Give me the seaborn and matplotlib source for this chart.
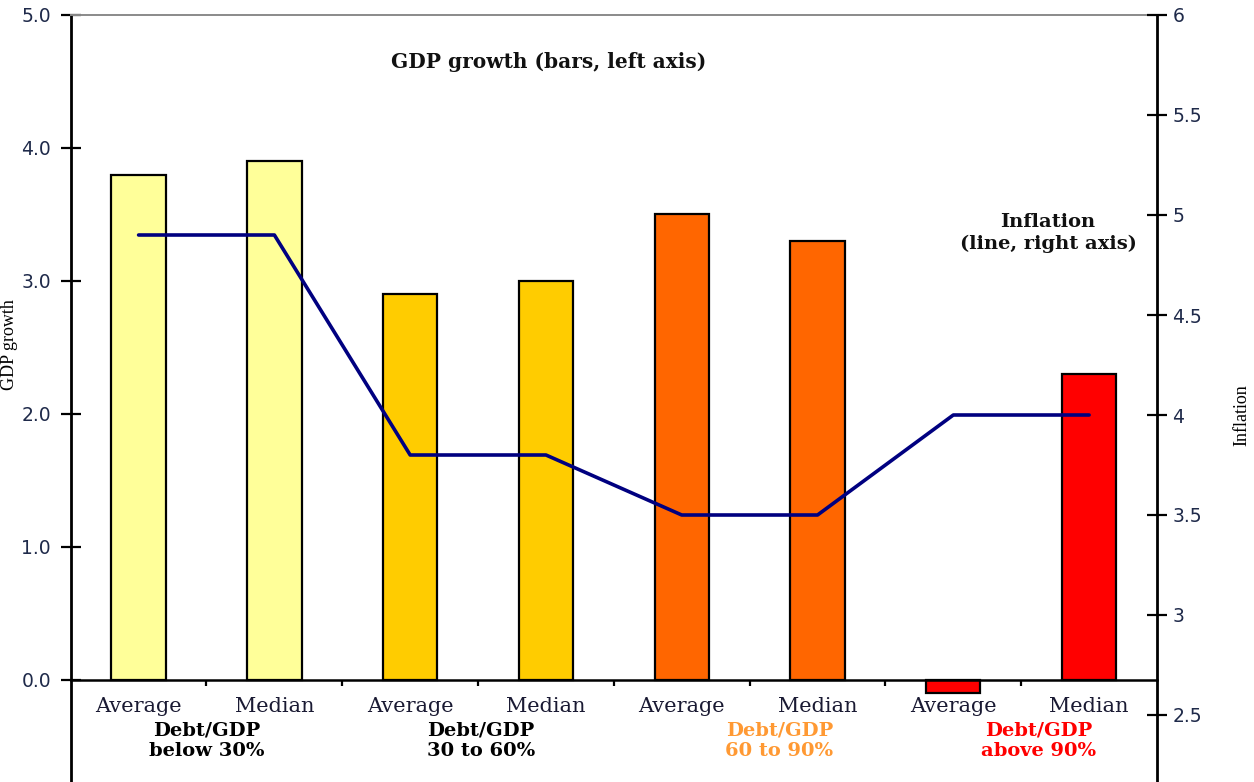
import numpy as np
import pandas as pd
import matplotlib
matplotlib.use("Agg")
import matplotlib.pyplot as plt
from matplotlib.ticker import FuncFormatter, FixedLocator
import seaborn as sns

# Debt/GDP buckets and the two statistics shown for each
groups = ["below 30%", "30 to 60%", "60 to 90%", "above 90%"]
measures = ["Average", "Median"]
gdp_growth = [3.8, 3.9, 2.9, 3.0, 3.5, 3.3, -0.1, 2.3]   # bars, left axis
inflation = [4.9, 4.9, 3.8, 3.8, 3.5, 3.5, 4.0, 4.0]      # line, right axis
left_ticks = [0.0, 1.0, 2.0, 3.0, 4.0, 5.0]
right_ticks = [2.5, 3.0, 3.5, 4.0, 4.5, 5.0, 5.5, 6.0]

bar_colors = ["#FFFF99", "#FFCC00", "#FF6600", "#FF0000"]
group_text_colors = ["#000000", "#000000", "#FF9933", "#FF0000"]

df = pd.DataFrame({
    "slot": [f"{g} {m}" for g in groups for m in measures],
    "group": [g for g in groups for _ in measures],
    "measure": [m for _ in groups for m in measures],
    "gdp": gdp_growth,
})

sns.set_theme(style="white")
plt.rcParams["font.family"] = ["DejaVu Serif"]

W, H = 1254, 782
fig = plt.figure(figsize=(W / 100, H / 100), dpi=100)
ax_left, ax_right, ax_top = 70.7, 1157, 15
ax = fig.add_axes([ax_left / W, 0, (ax_right - ax_left) / W, 1 - ax_top / H])

sns.barplot(data=df, x="slot", y="gdp", hue="group", palette=bar_colors,
            saturation=1, dodge=False, width=0.4, edgecolor="black",
            linewidth=1.6, legend=False, ax=ax)

ax.set_xlim(-0.5, len(df) - 0.5)
ax.set_ylim(-0.767, 5.0)

ax2 = ax.twinx()
sns.lineplot(x=np.arange(len(df)), y=inflation, color="#000080",
             linewidth=2.6, ax=ax2)
ax2.set_ylim(2.165, 6.0)
ax.set_xlim(-0.5, len(df) - 0.5)

# spines
ax.spines["right"].set_visible(False)
ax.spines["top"].set_color("#8a8a8a")
ax.spines["top"].set_linewidth(1.4)
ax.spines["left"].set_color("black")
ax.spines["left"].set_linewidth(2.0)
ax.spines["bottom"].set_position(("data", 0))
ax.spines["bottom"].set_color("black")
ax.spines["bottom"].set_linewidth(1.8)
for s in ["left", "top", "bottom"]:
    ax2.spines[s].set_visible(False)
ax2.spines["right"].set_color("black")
ax2.spines["right"].set_linewidth(2.0)

# x axis: measure names under each bar, small ticks between bars
ax.set_xticks(np.arange(len(df)))
ax.set_xticklabels(df["measure"], fontsize=15, family="DejaVu Serif", color="#1a1a33")
ax.xaxis.set_minor_locator(FixedLocator(np.arange(0.5, len(df) - 1, 1.0)))
ax.tick_params(axis="x", which="major", length=0, pad=12)
ax.tick_params(axis="x", which="minor", length=4.5, width=1.6, direction="out",
               color="black", bottom=True)
ax.set_xlabel("")

# left y axis
ax.set_yticks(left_ticks)
ax.yaxis.set_major_formatter(FuncFormatter(lambda v, p: f"{v:.1f}"))
ax.tick_params(axis="y", which="major", direction="inout", length=14.4,
               width=1.6, color="black", pad=7, left=True,
               labelsize=13.5, labelcolor="#1f2a4a")
for t in ax.get_yticklabels():
    t.set_family("DejaVu Sans")
ax.set_ylabel("GDP growth", family="Liberation Serif", fontsize=13, color="black")
ax.yaxis.set_label_coords(-0.0485, 0.57)

# right y axis
ax2.set_yticks(right_ticks)
ax2.yaxis.set_major_formatter(FuncFormatter(lambda v, p: f"{v:g}"))
ax2.tick_params(axis="y", which="major", direction="inout", length=14.4,
                width=1.6, color="black", pad=4, right=True,
                labelsize=13.5, labelcolor="#1f2a4a")
for t in ax2.get_yticklabels():
    t.set_family("DejaVu Sans")
ax2.set_ylabel("Inflation", family="Liberation Serif", fontsize=13,
               color="black", rotation=90)
ax2.yaxis.set_label_coords(1.0705, 0.4785)
ax2.set_xlabel("")

ax.grid(False)
ax2.grid(False)

# group captions under each pair of bars
group_x = [0.5, 2.52, 4.72, 6.63]
for gx, g, c in zip(group_x, groups, group_text_colors):
    ax.text(gx, -0.459, f"Debt/GDP\n{g}", ha="center", va="center",
            fontsize=14, fontweight="bold", color=c, linespacing=1.15,
            family="DejaVu Serif", clip_on=False)

# series annotations
fig.text(549 / W, 1 - 62 / H, "GDP growth (bars, left axis)", ha="center",
         va="center", fontsize=14.5, fontweight="bold", color="#111111",
         family="DejaVu Serif")
fig.text(1048 / W, 1 - 233 / H, "Inflation\n(line, right axis)", ha="center",
         va="center", fontsize=14, fontweight="bold", color="#111111",
         family="DejaVu Serif", linespacing=1.2)

fig.savefig("out.png", dpi=100)
